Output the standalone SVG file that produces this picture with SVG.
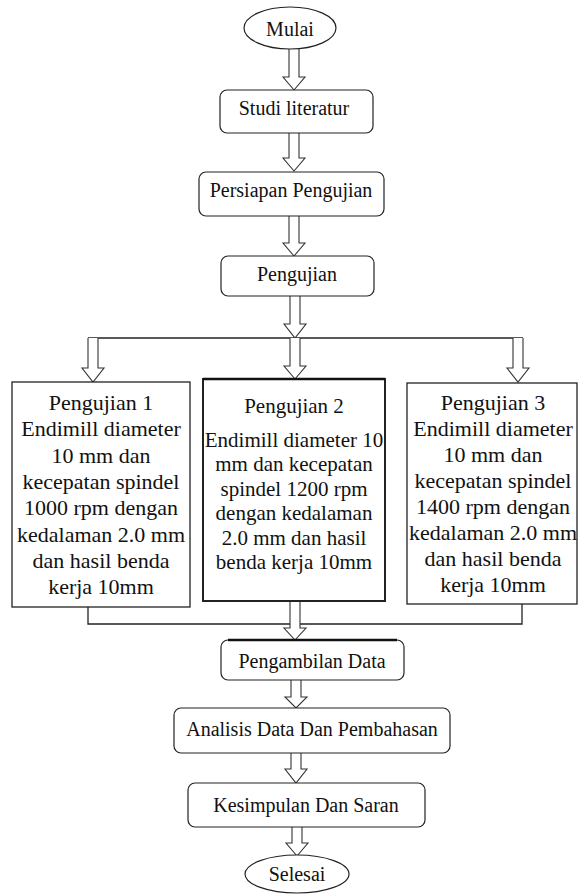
<svg xmlns="http://www.w3.org/2000/svg" width="579" height="894" viewBox="0 0 579 894">
<style>
.box{fill:#fff;stroke:#222;stroke-width:1.2}
.sq{fill:#fff;stroke:#222;stroke-width:1.3}
.arr{fill:#fff;stroke:#333;stroke-width:1.1;stroke-linejoin:miter}
.ln{fill:none;stroke:#222;stroke-width:1.3}
.thick{fill:none;stroke:#111;stroke-width:2.6}
text{fill:#111;text-anchor:middle}
.t{font-size:20px}
.s{font-size:22px}
.m{font-size:21px}
</style>
<rect width="579" height="894" fill="#fff"/>
<g id="connectors">
<path class="ln" d="M88,338 H523"/>
<path class="ln" d="M88,607 V624 H522 V604"/>
<path class="arr" d="M289,49 V77 H283 L294,90 L305,77 H299 V49"/>
<path class="arr" d="M289,133 V158 H283 L294,171 L305,158 H299 V133"/>
<path class="arr" d="M289,216 V243 H283 L294,256 L305,243 H299 V216"/>
<path class="arr" d="M290,296 V324 H284 L295,338 L306,324 H300 V296"/>
<path class="arr" d="M88,338 V368 H82 L93,382 L104,368 H98 V338"/>
<path class="arr" d="M290,338 V366 H284 L295,379 L306,366 H300 V338"/>
<path class="arr" d="M513,338 V368 H507 L518,382 L529,368 H523 V338"/>
<path class="arr" d="M290,601 V628 H284 L295,640 L306,628 H300 V601"/>
<path class="arr" d="M291,680 V697 H285 L296,708 L307,697 H301 V680"/>
<path class="arr" d="M291,753 V769 H285 L296,783 L307,769 H301 V753"/>
<path class="arr" d="M292,827 V843 H286 L297,856 L308,843 H302 V827"/>
</g>
<g font-family="Liberation Serif, DejaVu Serif, serif">
<g id="mulai">
<ellipse class="box" cx="290" cy="28" rx="46" ry="21"/>
<text class="t" x="290" y="36">Mulai</text>
</g>
<g id="studi">
<rect class="box" x="220" y="90" width="153" height="43" rx="7"/>
<text class="t" x="294" y="115">Studi literatur</text>
</g>
<g id="persiapan">
<rect class="box" x="199" y="172" width="185" height="44" rx="7"/>
<text class="t" x="291" y="197">Persiapan Pengujian</text>
</g>
<g id="pengujian">
<rect class="box" x="221" y="256" width="153" height="40" rx="7"/>
<text class="t" x="297" y="281">Pengujian</text>
</g>
<g id="pengujian1">
<rect class="sq" x="12" y="382" width="178" height="225"/>
<text class="s" x="101" y="410">Pengujian 1</text>
<text class="s" x="101" y="436">Endimill diameter</text>
<text class="s" x="101" y="463">10 mm dan</text>
<text class="s" x="101" y="489">kecepatan spindel</text>
<text class="s" x="101" y="515">1000 rpm dengan</text>
<text class="s" x="101" y="542">kedalaman 2.0 mm</text>
<text class="s" x="101" y="568">dan hasil benda</text>
<text class="s" x="101" y="594">kerja 10mm</text>
</g>
<g id="pengujian2">
<rect class="sq" x="203" y="379" width="182" height="222" style="stroke-width:2"/>
<path class="thick" d="M203,379 H385"/>
<text class="m" x="294" y="413">Pengujian 2</text>
<text class="m" x="294" y="447">Endimill diameter 10</text>
<text class="m" x="294" y="471">mm dan kecepatan</text>
<text class="m" x="294" y="496">spindel 1200 rpm</text>
<text class="m" x="294" y="520">dengan kedalaman</text>
<text class="m" x="294" y="545">2.0 mm dan hasil</text>
<text class="m" x="294" y="569">benda kerja 10mm</text>
</g>
<g id="pengujian3">
<rect class="sq" x="407" y="383" width="170" height="221"/>
<text class="s" x="493" y="410">Pengujian 3</text>
<text class="s" x="493" y="436">Endimill diameter</text>
<text class="s" x="493" y="462">10 mm dan</text>
<text class="s" x="493" y="488">kecepatan spindel</text>
<text class="s" x="493" y="514">1400 rpm dengan</text>
<text class="s" x="493" y="540">kedalaman 2.0 mm</text>
<text class="s" x="493" y="566">dan hasil benda</text>
<text class="s" x="493" y="592">kerja 10mm</text>
</g>
<g id="pengambilan">
<rect class="box" x="221" y="640" width="183" height="40" rx="7"/>
<path class="thick" d="M228,640 H397"/>
<text class="t" x="312" y="668">Pengambilan Data</text>
</g>
<g id="analisis">
<rect class="box" x="174" y="708" width="276" height="45" rx="7"/>
<text class="t" x="312" y="736">Analisis Data Dan Pembahasan</text>
</g>
<g id="kesimpulan">
<rect class="box" x="188" y="783" width="237" height="44" rx="7"/>
<text class="t" x="306" y="812">Kesimpulan Dan Saran</text>
</g>
<g id="selesai">
<ellipse class="box" cx="297" cy="874" rx="52" ry="19"/>
<text class="t" x="297" y="881">Selesai</text>
</g>
</g>
</svg>
